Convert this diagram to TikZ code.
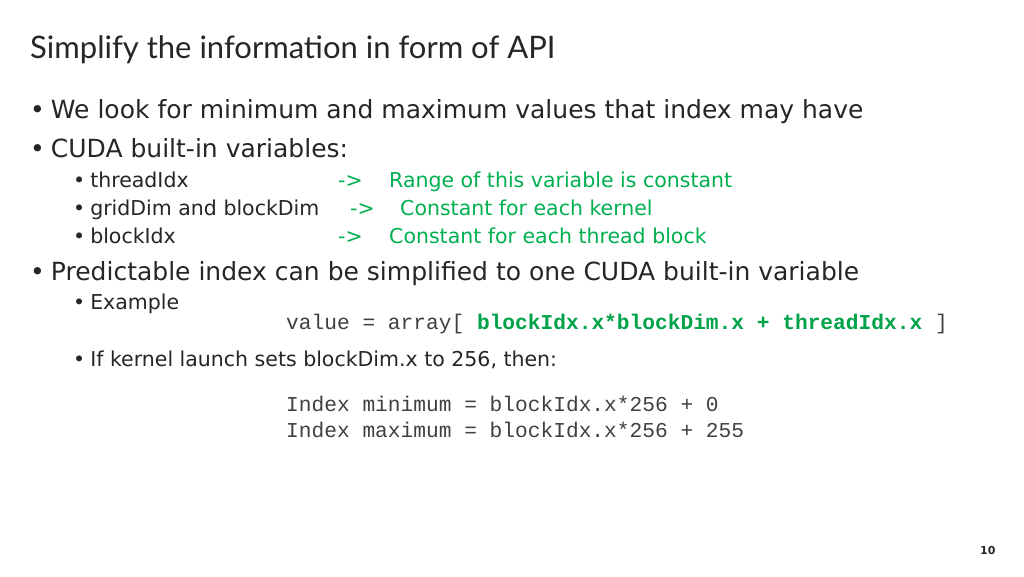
\documentclass[tikz,border=0pt]{standalone}
\usepackage{fontspec}
\setmainfont{DejaVu Sans}
\newfontfamily\titlefont{Lato}
\setmonofont{Liberation Mono}
\definecolor{bodytext}{HTML}{262626}
\definecolor{codegray}{HTML}{404040}
\definecolor{rangegreen}{HTML}{00B050}
\definecolor{codegreen}{HTML}{00A24A}

\begin{document}
\begin{tikzpicture}[x=1pt, y=-1pt, every node/.style={anchor=base west, inner sep=0pt, text=bodytext}]
\tikzset{main/.style={font=\fontsize{25}{28}\selectfont},
         sub/.style={font=\fontsize{20.5}{23}\selectfont},
         note/.style={sub, text=rangegreen},
         code/.style={font=\fontsize{21.2}{24}\ttfamily, text=codegray}}
\useasboundingbox[fill=white] (0,0) rectangle (1024,576);
% title
\node[font=\fontsize{31}{34}\titlefont] (title) at (30,58) {Simplify the information in form of API};
% bullets
\node[main] (b1) at (30,118) {\textbullet\hspace{6pt}We look for minimum and maximum values that index may have};
\node[main] (b2) at (30,157) {\textbullet\hspace{6pt}CUDA built-in variables:};
\node[sub] (s1) at (73,187) {\textbullet\hspace{5pt}threadIdx};
\node[sub] (s2) at (73,215) {\textbullet\hspace{5pt}gridDim and blockDim};
\node[sub] (s3) at (73,243) {\textbullet\hspace{5pt}blockIdx};
\node[note] (a1) at (338,187) {->};
\node[note] (a2) at (350,215) {->};
\node[note] (a3) at (338,243) {->};
\node[note] (n1) at (389,187) {Range of this variable is constant};
\node[note] (n2) at (400,215) {Constant for each kernel};
\node[note] (n3) at (389,243) {Constant for each thread block};
\node[main] (b3) at (30,280) {\textbullet\hspace{6pt}Predictable index can be simplified to one CUDA built-in variable};
\node[sub] (s4) at (73,309) {\textbullet\hspace{5pt}Example};
\node[code] (c1) at (286,329) {value = array[ \textcolor{codegreen}{\bfseries blockIdx.x*blockDim.x + threadIdx.x} ]};
\node[sub] (s5) at (73,366) {\textbullet\hspace{5pt}If kernel launch sets blockDim.x to 256, then:};
\node[code] (c2) at (286,411) {Index minimum = blockIdx.x*256 + 0};
\node[code] (c3) at (286,437) {Index maximum = blockIdx.x*256 + 255};
% page number
\node[font=\fontsize{11}{13}\selectfont\bfseries] (page) at (980,554) {10};
\end{tikzpicture}
\end{document}
